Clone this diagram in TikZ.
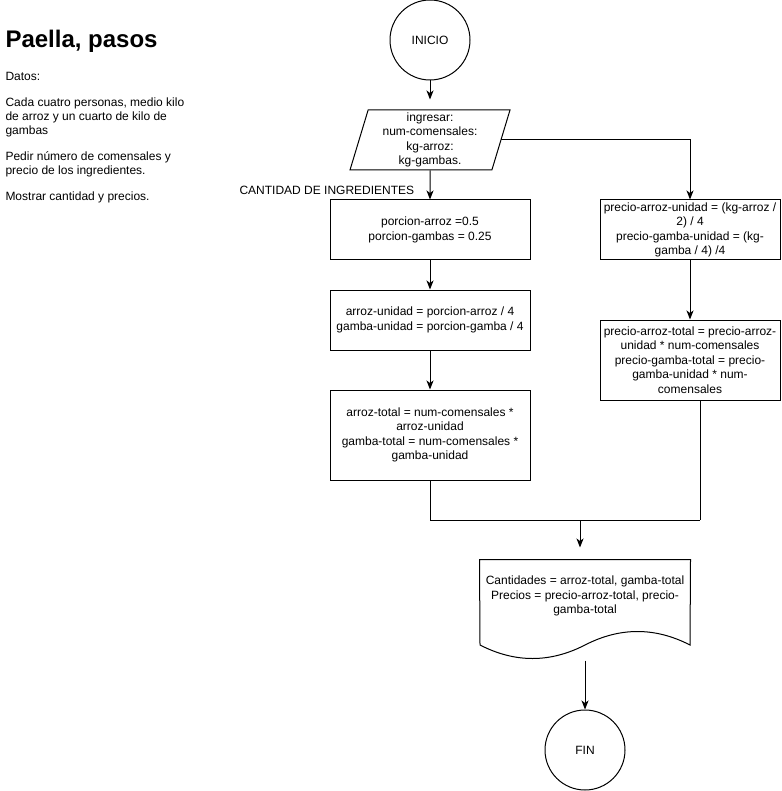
\documentclass[tikz,border=0pt]{standalone}
\usepackage{fontspec}
\setmainfont{Liberation Sans}
\usetikzlibrary{shapes, shapes.geometric}
\usetikzlibrary{arrows, arrows.meta}
\usetikzlibrary{calc}

\begin{document}
\begin{tikzpicture}[x=1pt, y=-1pt, line width=1pt, font=\fontsize{12}{14.4}\selectfont,
        >={Stealth[length=9pt, width=7pt, inset=2.5pt]}]
        \useasboundingbox (0,0) rectangle (781,791);

        % notas de la izquierda
        \node[anchor=base west, inner sep=0, font=\bfseries\fontsize{24}{28}\selectfont] (titulo)
        at (5,48) {Paella, pasos};
        \node[anchor=base west, inner sep=0] (datos) at (5,81) {Datos:};
        \node[anchor=base west, inner sep=0, align=left, font=\fontsize{12}{14}\selectfont] (regla)
        at (5,135) {Cada cuatro personas, medio kilo\\de arroz y un cuarto de kilo de\\gambas};
        \node[anchor=base west, inner sep=0, align=left, font=\fontsize{12}{14}\selectfont] (pedir)
        at (5,175) {Pedir número de comensales y\\precio de los ingredientes.};
        \node[anchor=base west, inner sep=0] (mostrar) at (5,201) {Mostrar cantidad y precios.};
        \node[anchor=base west, inner sep=0] (etiqueta) at (239,195) {CANTIDAD DE INGREDIENTES};

        % flujo
        \node[draw, circle, minimum size=80, inner sep=0] (inicio) at (430,40) {INICIO};
        \node[draw, trapezium, trapezium left angle=71.57, trapezium right angle=108.43,
        trapezium stretches body, minimum width=160, minimum height=60, inner sep=0,
        align=center] (entrada) at (430,140)
        {ingresar:\\num-comensales:\\kg-arroz:\\kg-gambas.};
        \node[draw, rectangle, minimum width=200, minimum height=60, inner sep=0,
        align=center] (porcion) at (430,230)
        {porcion-arroz =0.5\\porcion-gambas = 0.25};
        \node[draw, rectangle, minimum width=200, minimum height=60, inner sep=0,
        align=center] (unidad) at (430,320)
        {arroz-unidad = porcion-arroz / 4\\gamba-unidad = porcion-gamba / 4};
        \node[draw, rectangle, minimum width=200, minimum height=90, inner sep=0,
        align=center] (cantidad) at (430,435)
        {arroz-total = num-comensales *\\arroz-unidad\\gamba-total = num-comensales *\\gamba-unidad};
        \node[draw, rectangle, minimum width=180, minimum height=60, inner sep=0,
        align=center] (precioA) at (690,230)
        {precio-arroz-unidad = (kg-arroz /\\2) / 4\\precio-gamba-unidad = (kg-\\gamba / 4) /4};
        \node[draw, rectangle, minimum width=180, minimum height=80, inner sep=0,
        align=center] (precioB) at (690,360)
        {precio-arroz-total = precio-arroz-\\unidad * num-comensales\\precio-gamba-total = precio-\\gamba-unidad * num-\\comensales};
        \node[minimum width=210, minimum height=100, inner sep=0] (salida) at (585,610) {};
        \draw (salida.north west) -- (salida.north east) -- (690,645)
        .. controls (655,627) and (620,627) .. (585,645)
        .. controls (550,663) and (515,663) .. (480,645) -- cycle;
        \node[align=center, inner sep=0] (salidatxt) at (585,596)
        {Cantidades = arroz-total, gamba-total\\Precios = precio-arroz-total, precio-\\gamba-total};
        \node[draw, circle, minimum size=80, inner sep=0] (fin) at (585,750) {FIN};

        \coordinate (junta) at (700,520);
        \coordinate (medio) at (580,520);

        \draw[->, shorten >=10pt] (inicio) -- (entrada);
        \draw[->] (entrada) -- (porcion);
        \draw[->] (entrada.east) -| (precioA.north);
        \draw[->] (porcion) -- (unidad);
        \draw[->] (unidad) -- (cantidad);
        \draw[->] (precioA) -- (precioB);
        \draw (cantidad.south) |- (junta);
        \draw (precioB.south -| junta) -- (junta);
        \draw[->, shorten >=12pt] (medio) -- (medio |- salida.north);
        \draw[->] (salida.south) -- (fin);
    \end{tikzpicture}
\end{document}
